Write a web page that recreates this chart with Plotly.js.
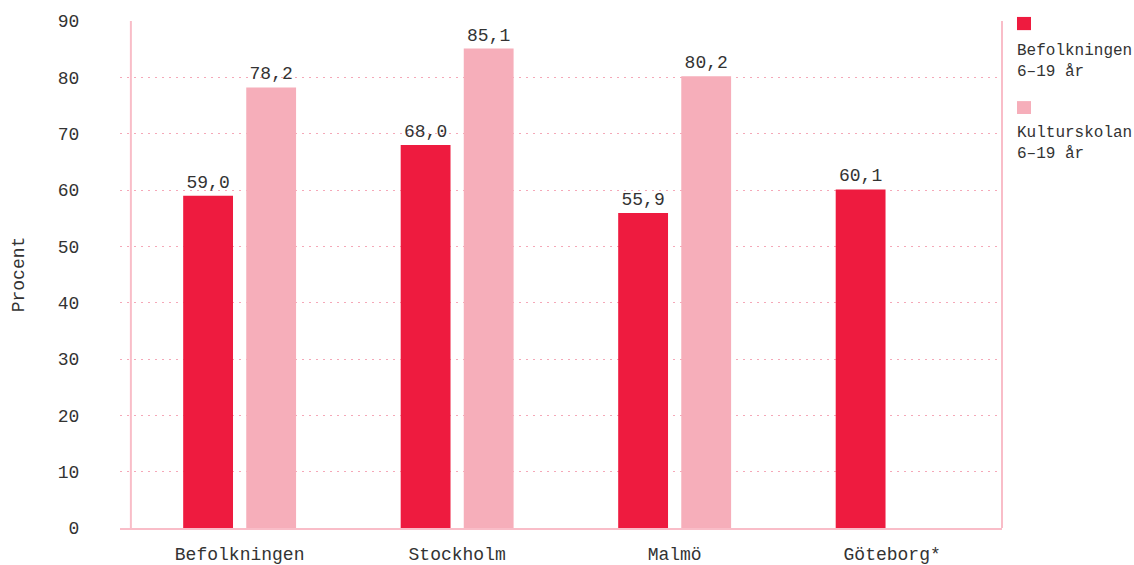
<!DOCTYPE html>
<html>
<head>
<meta charset="utf-8">
<script src="https://cdn.plot.ly/plotly-3.0.1.min.js"></script>
<style>html,body{margin:0;padding:0;background:#fff;}#chart{width:1134px;height:565px;}</style>
</head>
<body>
<div id="chart"></div>
<script>
const categories = ['Befolkningen', 'Stockholm', 'Malmö', 'Göteborg*'];
const befolkningen = [59.0, 68.0, 55.9, 60.1];
const kulturskolan = [78.2, 85.1, 80.2, null];
const seriesNames = ['Befolkningen<br>6–19 år', 'Kulturskolan<br>6–19 år'];
const yTicks = [0, 10, 20, 30, 40, 50, 60, 70, 80, 90];

const RED = '#EE1B3F';
const PINK = '#F6AEBA';
const LINE = '#F9BDC8';
const GRID = '#F5A8B8';
const TEXT = '#333333';
const FONT = '"Liberation Mono", "DejaVu Sans Mono", monospace';

function barTrace(vals, name, color) {
  return {
    type: 'bar', x: categories, y: vals, name: name,
    marker: {color: color},
    texttemplate: '%{y:.1f}', textposition: 'outside', cliponaxis: false,
    textfont: {family: FONT, size: 18, color: TEXT},
    hoverinfo: 'x+y', showlegend: false
  };
}

const data = [
  barTrace(befolkningen, seriesNames[0], RED),
  barTrace(kulturskolan, seriesNames[1], PINK)
];

const layout = {
  width: 1134, height: 565,
  margin: {l: 120, r: 132, t: 21, b: 37},
  paper_bgcolor: '#ffffff', plot_bgcolor: '#ffffff',
  font: {family: FONT, size: 18, color: TEXT},
  separators: ', ',
  barmode: 'group', bargap: 0.42, bargroupgap: 0.21,
  showlegend: false,
  xaxis: {
    type: 'category', range: [-0.55, 3.505],
    showgrid: false, zeroline: false,
    showline: true, linecolor: LINE, linewidth: 2,
    ticks: 'outside', ticklen: 8, tickcolor: 'rgba(0,0,0,0)',
    tickfont: {family: FONT, size: 18, color: TEXT}
  },
  yaxis: {
    range: [0, 90], tickvals: yTicks, ticktext: yTicks.map(String),
    showgrid: true, gridcolor: GRID, griddash: '2px,5px', gridwidth: 1,
    zeroline: false, showline: false,
    ticks: 'outside', ticklen: 36, tickcolor: 'rgba(0,0,0,0)',
    tickfont: {family: FONT, size: 18, color: TEXT},
    title: {text: 'Procent', font: {family: FONT, size: 18, color: TEXT}, standoff: 28}
  },
  shapes: [
    {type: 'line', xref: 'x', yref: 'paper', x0: -0.5, x1: -0.5, y0: 0, y1: 1,
     line: {color: LINE, width: 2}},
    {type: 'line', xref: 'paper', yref: 'paper', x0: 1, x1: 1, y0: 0, y1: 1,
     line: {color: LINE, width: 2}},
    {type: 'rect', xref: 'paper', yref: 'paper', x0: 1.017, x1: 1.0329, y0: 0.982, y1: 1.008,
     fillcolor: RED, line: {width: 0}},
    {type: 'rect', xref: 'paper', yref: 'paper', x0: 1.017, x1: 1.0329, y0: 0.8166, y1: 0.842,
     fillcolor: PINK, line: {width: 0}}
  ],
  annotations: [
    {xref: 'paper', yref: 'paper', x: 1.015, y: 0.963, xanchor: 'left', yanchor: 'top',
     align: 'left', showarrow: false, text: seriesNames[0],
     font: {family: FONT, size: 16, color: TEXT}},
    {xref: 'paper', yref: 'paper', x: 1.015, y: 0.8, xanchor: 'left', yanchor: 'top',
     align: 'left', showarrow: false, text: seriesNames[1],
     font: {family: FONT, size: 16, color: TEXT}}
  ]
};

Plotly.newPlot('chart', data, layout, {displayModeBar: false, staticPlot: true});
</script>
</body>
</html>
